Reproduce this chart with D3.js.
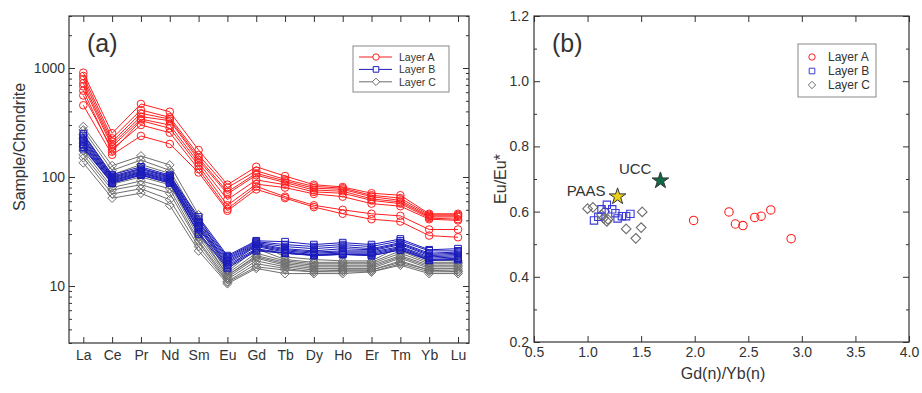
<!DOCTYPE html>
<html>
<head>
<meta charset="utf-8">
<script src="https://cdn.jsdelivr.net/npm/d3@7"></script>
<style>
body { margin: 0; background: #fff; }
svg text { font-family: "Liberation Sans", Arial, sans-serif; fill: #333; }
</style>
</head>
<body>
<svg id="chart"></svg>
<script>
// Canvas size
const width = 922;
const height = 393;

// REE elements (x categories of panel a)
const elements = ["La", "Ce", "Pr", "Nd", "Sm", "Eu", "Gd", "Tb", "Dy", "Ho", "Er", "Tm", "Yb", "Lu"];

// Chondrite-normalised patterns, one row per sample
const layerA = [
    [906, 252, 468, 397, 177, 85, 124, 102, 85, 81, 71, 68, 46, 46],
    [845, 226, 412, 353, 159, 80, 114, 95, 82, 79, 68, 64, 45, 45],
    [787, 211, 384, 340, 150, 73, 108, 92, 79, 77, 66, 61, 44, 44],
    [725, 200, 358, 329, 143, 70, 104, 89, 76, 74, 63, 59, 43, 43],
    [680, 190, 340, 300, 135, 62, 94, 85, 73, 71, 61, 57, 42, 41],
    [619, 171, 329, 280, 127, 55, 86, 80, 70, 66, 57, 54, 41, 40],
    [560, 180, 300, 255, 118, 51, 82, 66, 55, 50, 46, 44, 33, 33],
    [455, 160, 238, 201, 110, 49, 77, 64, 53, 46, 41, 39, 29, 28]
];
const layerB = [
    [250, 105, 124, 104, 43, 19, 26, 25.5, 24, 25, 24, 27, 21.5, 22],
    [240, 102, 120, 102, 41, 18.5, 25.5, 24, 23, 24, 23, 26, 21, 21],
    [230, 100, 117, 100, 39, 18, 25, 23, 22, 23, 22, 25, 20, 20.5],
    [222, 98, 114, 98, 38, 17.5, 24.5, 22, 21, 22, 21.5, 24.5, 19.5, 20],
    [215, 96, 112, 96, 36, 17, 24, 21.5, 20.5, 21, 21, 24, 19, 19.5],
    [208, 94, 110, 94, 35, 16.5, 23.5, 21, 20, 20.5, 20.5, 23, 18.5, 19],
    [200, 92, 108, 92, 34, 16, 23, 20.5, 19.5, 20, 20, 22.5, 18, 18.5],
    [195, 90, 106, 90, 33, 15.5, 22, 20, 19.2, 19.5, 19.5, 22, 17.5, 18],
    [188, 88, 104, 88, 31, 15, 21.5, 20, 19.2, 19.5, 19, 21.5, 17.2, 17.5],
    [182, 88, 104, 88, 30, 14.5, 21, 20, 19, 19.5, 19, 21.4, 17.2, 17.5]
];
const layerC = [
    [290, 127, 156, 129, 45, 14, 25, 18.5, 17.5, 17, 17, 23, 17.4, 17],
    [270, 115, 143, 115, 40, 13.5, 22, 17.5, 16.5, 16.5, 16.5, 21, 16.5, 16.5],
    [245, 105, 130, 108, 36, 13, 20, 17, 16, 16, 16, 20, 16, 16],
    [225, 98, 120, 100, 32, 12.5, 19, 16.5, 15.5, 15.5, 15.5, 19, 15.5, 15.5],
    [205, 92, 110, 92, 30, 12.5, 18.5, 16, 15, 15, 15, 18.5, 15, 15],
    [190, 86, 100, 85, 28, 12, 18, 15.5, 14.5, 14.5, 14.5, 18, 14.5, 14.5],
    [175, 80, 92, 78, 26, 11.5, 17, 15, 14, 14, 14, 17, 14, 14],
    [160, 76, 85, 71, 25, 11, 16, 14.5, 13.5, 14, 14, 16.5, 14, 13.5],
    [150, 70, 78, 62, 23, 10.8, 15, 14, 13.5, 13.5, 13.5, 16, 13.5, 13.5],
    [135, 64, 71, 55, 21, 10.5, 14.5, 13, 13, 13, 13.5, 15.5, 13, 13]
];

// Panel b: Gd(n)/Yb(n) vs Eu/Eu*
const gdybA = [1.99, 2.32, 2.38, 2.45, 2.56, 2.62, 2.71, 2.90];
const euA = [0.573, 0.599, 0.562, 0.557, 0.582, 0.586, 0.605, 0.517];
const gdybB = [1.06, 1.10, 1.13, 1.18, 1.23, 1.26, 1.28, 1.32, 1.36, 1.40];
const euB = [0.573, 0.584, 0.607, 0.621, 0.607, 0.595, 0.579, 0.586, 0.586, 0.593];
const gdybC = [1.00, 1.05, 1.13, 1.15, 1.16, 1.18, 1.19, 1.36, 1.45, 1.50, 1.51];
const euC = [0.609, 0.613, 0.590, 0.580, 0.600, 0.570, 0.576, 0.547, 0.518, 0.551, 0.599];
const references = [
    { name: "PAAS", gdyb: 1.28, eu: 0.646, color: "#e8d21a" },
    { name: "UCC", gdyb: 1.68, eu: 0.695, color: "#0f6b45" }
];

const layers = [
    { name: "Layer A", color: "#ff1f1f", shape: "circle" },
    { name: "Layer B", color: "#1c1cbb", shape: "square" },
    { name: "Layer C", color: "#6e6e6e", shape: "diamond" }
];

const svg = d3.select("#chart").attr("width", width).attr("height", height);

// marker path for each shape
const markerPath = (shape, s) => {
    if (shape === "circle") return d3.symbol(d3.symbolCircle, Math.PI * s * s)();
    if (shape === "square") return d3.symbol(d3.symbolSquare, (s * 1.75) * (s * 1.75))();
    return `M0,${-s * 1.15}L${s * 1.15},0L0,${s * 1.15}L${-s * 1.15},0Z`;
};

const styleAxis = (g) => {
    g.select(".domain").remove();
    g.selectAll(".tick line").attr("stroke", "#333");
    g.attr("font-size", 14);
};

// ---------------- Panel (a) ----------------
const ax = { left: 69, right: 469, top: 16, bottom: 343 };
const xA = d3.scalePoint().domain(elements).range([83.3, 458]);
const yA = d3.scaleLog().domain([3, 3000]).range([ax.bottom, ax.top]);
const minorA = [3, 4, 5, 6, 7, 8, 9, 20, 30, 40, 50, 60, 70, 80, 90, 200, 300, 400, 500, 600, 700, 800, 900, 2000, 3000];

const pA = svg.append("g");

pA.append("g").attr("transform", `translate(0,${ax.bottom})`)
    .call(d3.axisBottom(xA).tickSize(-6).tickPadding(7))
    .call(styleAxis);
pA.append("g").attr("transform", `translate(0,${ax.top})`)
    .call(d3.axisTop(xA).tickSize(-6).tickFormat(""))
    .call(styleAxis);
pA.append("g").attr("transform", `translate(${ax.left},0)`)
    .call(d3.axisLeft(yA).tickValues([10, 100, 1000]).tickSize(-6).tickPadding(4).tickFormat(d3.format("d")))
    .call(styleAxis);
pA.append("g").attr("transform", `translate(${ax.left},0)`)
    .call(d3.axisLeft(yA).tickValues(minorA).tickSize(-3).tickFormat(""))
    .call(styleAxis);
pA.append("g").attr("transform", `translate(${ax.right},0)`)
    .call(d3.axisRight(yA).tickValues([10, 100, 1000]).tickSize(-6).tickFormat(""))
    .call(styleAxis);
pA.append("g").attr("transform", `translate(${ax.right},0)`)
    .call(d3.axisRight(yA).tickValues(minorA).tickSize(-3).tickFormat(""))
    .call(styleAxis);

const lineA = d3.line().x((d, i) => xA(elements[i])).y(d => yA(d));

[[layerC, layers[2]], [layerB, layers[1]], [layerA, layers[0]]].forEach(([rows, layer]) => {
    const g = pA.append("g");
    g.selectAll("path.line").data(rows).join("path")
        .attr("class", "line")
        .attr("d", lineA)
        .attr("fill", "none")
        .attr("stroke", layer.color)
        .attr("stroke-width", 1);
    rows.forEach(row => {
        g.selectAll(null).data(row).join("path")
            .attr("d", markerPath(layer.shape, 3.8))
            .attr("transform", (d, i) => `translate(${xA(elements[i])},${yA(d)})`)
            .attr("fill", "none")
            .attr("stroke", layer.color)
            .attr("stroke-width", 1);
    });
});

pA.append("rect")
    .attr("x", ax.left).attr("y", ax.top)
    .attr("width", ax.right - ax.left).attr("height", ax.bottom - ax.top)
    .attr("fill", "none").attr("stroke", "#333").attr("stroke-width", 1.2);

pA.append("text").attr("x", 19).attr("y", 147)
    .attr("transform", "rotate(-90,19,147)")
    .attr("text-anchor", "middle").attr("dominant-baseline", "central")
    .attr("font-size", 16).text("Sample/Chondrite");

pA.append("text").attr("x", 87).attr("y", 52).attr("font-size", 25).text("(a)");

// legend (a)
const legA = pA.append("g");
legA.append("rect").attr("x", 353).attr("y", 46).attr("width", 96).attr("height", 46)
    .attr("fill", "#fff").attr("stroke", "#888").attr("stroke-width", 1);
layers.forEach((l, i) => {
    const y = 57 + i * 12.4;
    legA.append("line").attr("x1", 359).attr("x2", 392).attr("y1", y).attr("y2", y)
        .attr("stroke", l.color).attr("stroke-width", 1);
    legA.append("path").attr("d", markerPath(l.shape, 3.2))
        .attr("transform", `translate(376,${y})`)
        .attr("fill", "#fff").attr("stroke", l.color);
    legA.append("text").attr("x", 399).attr("y", y).attr("dominant-baseline", "central")
        .attr("font-size", 10.5).text(l.name);
});

// ---------------- Panel (b) ----------------
const bx = { left: 534, right: 909, top: 16, bottom: 342 };
const xB = d3.scaleLinear().domain([0.5, 4.0]).range([bx.left, bx.right]);
const yB = d3.scaleLinear().domain([0.2, 1.2]).range([bx.bottom, bx.top]);
const xTicksB = d3.range(0.5, 4.01, 0.5);
const yTicksB = d3.range(0.2, 1.21, 0.2);
const yMinorB = d3.range(0.3, 1.2, 0.2);

const pB = svg.append("g");

pB.append("g").attr("transform", `translate(0,${bx.bottom})`)
    .call(d3.axisBottom(xB).tickValues(xTicksB).tickSize(-6).tickPadding(5).tickFormat(d3.format(".1f")))
    .call(styleAxis);
pB.append("g").attr("transform", `translate(0,${bx.top})`)
    .call(d3.axisTop(xB).tickValues(xTicksB).tickSize(-6).tickFormat(""))
    .call(styleAxis);
pB.append("g").attr("transform", `translate(${bx.left},0)`)
    .call(d3.axisLeft(yB).tickValues(yTicksB).tickSize(-6).tickPadding(5).tickFormat(d3.format(".1f")))
    .call(styleAxis);
pB.append("g").attr("transform", `translate(${bx.left},0)`)
    .call(d3.axisLeft(yB).tickValues(yMinorB).tickSize(-3).tickFormat(""))
    .call(styleAxis);
pB.append("g").attr("transform", `translate(${bx.right},0)`)
    .call(d3.axisRight(yB).tickValues(yTicksB).tickSize(-6).tickFormat(""))
    .call(styleAxis);
pB.append("g").attr("transform", `translate(${bx.right},0)`)
    .call(d3.axisRight(yB).tickValues(yMinorB).tickSize(-3).tickFormat(""))
    .call(styleAxis);

const scatterSets = [
    [gdybC, euC, layers[2]],
    [gdybB, euB, layers[1]],
    [gdybA, euA, layers[0]]
];
scatterSets.forEach(([xs, ys, layer]) => {
    pB.append("g").selectAll("path").data(xs).join("path")
        .attr("d", markerPath(layer.shape, 4.2))
        .attr("transform", (d, i) => `translate(${xB(d)},${yB(ys[i])})`)
        .attr("fill", "none")
        .attr("stroke", layer.shape === "square" ? "#3a3ad8" : layer.color)
        .attr("stroke-width", 1.1);
});

// PAAS and UCC stars
pB.append("g").selectAll("path").data(references).join("path")
    .attr("d", d3.symbol(d3.symbolStar, 85)())
    .attr("transform", d => `translate(${xB(d.gdyb)},${yB(d.eu)})`)
    .attr("fill", d => d.color)
    .attr("stroke", "#333").attr("stroke-width", 1);
pB.append("g").selectAll("text").data(references).join("text")
    .attr("x", d => xB(d.gdyb) - (d.name === "PAAS" ? 12 : 9))
    .attr("y", d => yB(d.eu) - (d.name === "PAAS" ? 1 : 7))
    .attr("text-anchor", "end")
    .attr("font-size", 15)
    .text(d => d.name);

pB.append("rect")
    .attr("x", bx.left).attr("y", bx.top)
    .attr("width", bx.right - bx.left).attr("height", bx.bottom - bx.top)
    .attr("fill", "none").attr("stroke", "#333").attr("stroke-width", 1.2);

pB.append("text").attr("x", 723).attr("y", 379).attr("text-anchor", "middle")
    .attr("font-size", 16).text("Gd(n)/Yb(n)");

pB.append("text").attr("x", 500).attr("y", 179)
    .attr("transform", "rotate(-90,500,179)")
    .attr("text-anchor", "middle").attr("dominant-baseline", "central")
    .attr("font-size", 16).text("Eu/Eu*");

pB.append("text").attr("x", 552).attr("y", 52).attr("font-size", 25).text("(b)");

// legend (b)
const legB = pB.append("g");
legB.append("rect").attr("x", 798).attr("y", 44).attr("width", 78).attr("height", 53)
    .attr("fill", "#fff").attr("stroke", "#888").attr("stroke-width", 1);
layers.forEach((l, i) => {
    const y = 57 + i * 14;
    legB.append("path").attr("d", markerPath(l.shape, 3.2))
        .attr("transform", `translate(812,${y})`)
        .attr("fill", "none")
        .attr("stroke", l.shape === "square" ? "#3a3ad8" : l.color);
    legB.append("text").attr("x", 828).attr("y", y).attr("dominant-baseline", "central")
        .attr("font-size", 12).text(l.name);
});
</script>
</body>
</html>
